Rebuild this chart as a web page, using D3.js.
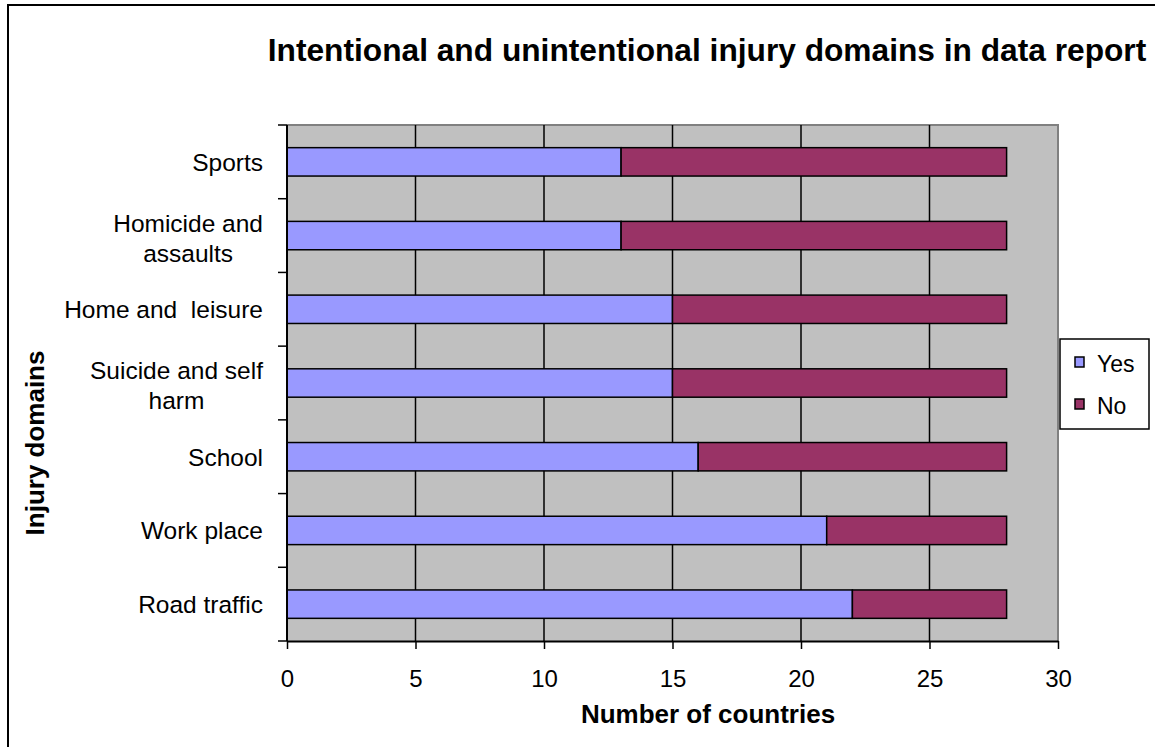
<!DOCTYPE html>
<html>
<head>
<meta charset="utf-8">
<script src="https://cdn.jsdelivr.net/npm/d3@7/dist/d3.min.js"></script>
<style>
  html, body { margin: 0; padding: 0; background: #fff; }
  svg { display: block; font-family: "Liberation Sans", Arial, sans-serif; }
</style>
</head>
<body>
<svg id="chart" width="1155" height="747"></svg>
<script>
// Injury domains, listed top to bottom
const categories = ["Sports", "Homicide and assaults", "Home and leisure",
  "Suicide and self harm", "School", "Work place", "Road traffic"];
const categoryLines = [["Sports"], ["Homicide and", "assaults"], ["Home and  leisure"],
  ["Suicide and self", "harm"], ["School"], ["Work place"], ["Road traffic"]];
// Number of countries reporting each domain
const yesValues = [13, 13, 15, 15, 16, 21, 22];
const noValues  = [15, 15, 13, 13, 12, 7, 6];
const seriesNames = ["Yes", "No"];
const seriesColors = ["#9999FF", "#993366"];
const xTicks = [0, 5, 10, 15, 20, 25, 30];

const svg = d3.select("#chart");
const plot = { left: 287, right: 1058, top: 125, bottom: 641 };
const labelFont = 24.5;

const x = d3.scaleLinear().domain([0, 30]).range([plot.left, plot.right]);
const y = d3.scaleBand().domain(categories).range([plot.top, plot.bottom])
  .paddingInner(0.615).paddingOuter(0.3075);
const bandEdge = d3.scaleLinear().domain([0, categories.length]).range([plot.top, plot.bottom]);

// outer chart frame
svg.append("rect").attr("x", 8).attr("y", 5).attr("width", 1160).attr("height", 760)
  .attr("fill", "#fff").attr("stroke", "#000").attr("stroke-width", 2);

// plot background
svg.append("rect").attr("x", plot.left).attr("y", plot.top)
  .attr("width", plot.right - plot.left).attr("height", plot.bottom - plot.top)
  .attr("fill", "#C0C0C0");
// grey top/right border of the plot area
svg.append("path")
  .attr("d", `M${plot.left},${plot.top}H${plot.right}V${plot.bottom}`)
  .attr("fill", "none").attr("stroke", "#808080").attr("stroke-width", 2);

// vertical gridlines
svg.append("g").selectAll("line").data(xTicks.filter(t => t > 0 && t < 30)).join("line")
  .attr("x1", d => x(d)).attr("x2", d => x(d))
  .attr("y1", plot.top).attr("y2", plot.bottom)
  .attr("stroke", "#000").attr("stroke-width", 1.5);

// stacked bars
const stacks = categories.map((c, i) => ({ cat: c, parts: [[0, yesValues[i]], [yesValues[i], yesValues[i] + noValues[i]]] }));
const rows = svg.append("g").selectAll("g").data(stacks).join("g");
rows.selectAll("rect").data(d => d.parts.map((p, k) => ({ cat: d.cat, p, k }))).join("rect")
  .attr("x", d => x(d.p[0]))
  .attr("width", d => x(d.p[1]) - x(d.p[0]))
  .attr("y", d => y(d.cat))
  .attr("height", y.bandwidth())
  .attr("fill", d => seriesColors[d.k])
  .attr("stroke", "#000").attr("stroke-width", 1.5);

// x axis
const xAxis = svg.append("g").attr("transform", `translate(0,${plot.bottom})`)
  .call(d3.axisBottom(x).tickValues(xTicks).tickSize(8).tickPadding(21).tickSizeOuter(0));
xAxis.select(".domain").attr("stroke", "#000").attr("stroke-width", 2);
xAxis.selectAll(".tick line").attr("stroke", "#000").attr("stroke-width", 1.5);
xAxis.selectAll(".tick text").attr("font-size", 24).attr("fill", "#000")
  .attr("font-family", "Liberation Sans, Arial, sans-serif");

// y axis line and ticks at band edges
svg.append("line").attr("x1", plot.left).attr("x2", plot.left)
  .attr("y1", plot.top).attr("y2", plot.bottom).attr("stroke", "#000").attr("stroke-width", 2);
svg.append("g").selectAll("line").data(d3.range(categories.length + 1)).join("line")
  .attr("x1", plot.left - 9).attr("x2", plot.left)
  .attr("y1", d => bandEdge(d)).attr("y2", d => bandEdge(d))
  .attr("stroke", "#000").attr("stroke-width", 1.5);

// category labels
const labelG = svg.append("g");
categories.forEach((c, i) => {
  const lines = categoryLines[i];
  const cy = y(c) + y.bandwidth() / 2;
  const lh = 30;
  const t = labelG.append("text").attr("font-size", labelFont).attr("fill", "#000")
    .attr("text-anchor", lines.length > 1 ? "middle" : "end")
    .style("white-space", "pre");
  if (lines.length === 1) {
    t.attr("x", 263).attr("y", cy + 9).text(lines[0]);
  } else {
    // measure widest line to right-align the block, centre lines within it
    const probe = labelG.append("text").attr("font-size", labelFont).text(lines[0]);
    const w = probe.node().getComputedTextLength();
    probe.remove();
    const cx = 263 - w / 2;
    lines.forEach((ln, j) => {
      t.append("tspan").attr("x", cx).attr("y", cy + 11 + (j - (lines.length - 1) / 2) * lh).text(ln);
    });
  }
});

// title
svg.append("text").attr("x", 707).attr("y", 61).attr("text-anchor", "middle")
  .attr("font-size", 31.7).attr("font-weight", "bold").text("Intentional and unintentional injury domains in data report");

// axis titles
svg.append("text").attr("x", 708).attr("y", 723).attr("text-anchor", "middle")
  .attr("font-size", 26).attr("font-weight", "bold").text("Number of countries");
svg.append("text").attr("transform", "translate(44,443) rotate(-90)").attr("text-anchor", "middle")
  .attr("font-size", 26).attr("font-weight", "bold").text("Injury domains");

// legend
const lg = svg.append("g");
lg.append("rect").attr("x", 1060).attr("y", 339).attr("width", 89).attr("height", 90)
  .attr("fill", "#fff").attr("stroke", "#000").attr("stroke-width", 1.5);
seriesNames.forEach((s, i) => {
  const yy = 357 + i * 42;
  lg.append("rect").attr("x", 1075).attr("y", yy).attr("width", 9).attr("height", 10)
    .attr("fill", seriesColors[i]).attr("stroke", "#000").attr("stroke-width", 1.5);
  lg.append("text").attr("x", 1097).attr("y", yy + 15).attr("font-size", 23).text(s);
});
</script>
</body>
</html>
